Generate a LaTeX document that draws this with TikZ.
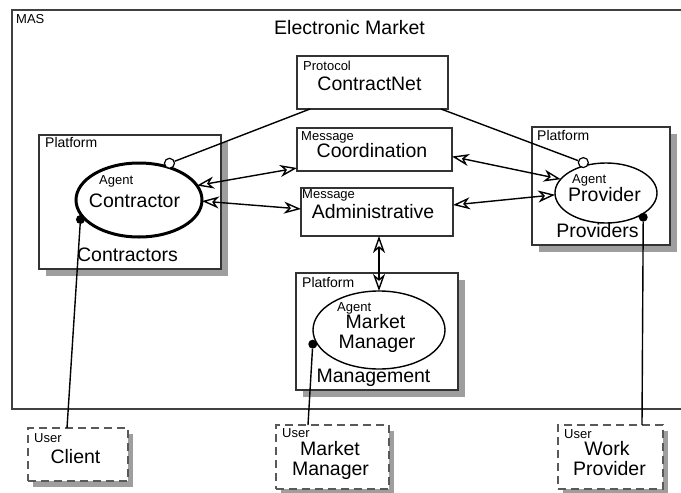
\documentclass[tikz,border=0pt]{standalone}
\usepackage{fontspec}
\setmainfont{Liberation Sans}
\usetikzlibrary{arrows.meta,shadows,shapes.geometric}
\newcommand\lblbig{\fontsize{19.5}{20}\selectfont}
\newcommand\lblsmall{\fontsize{13}{14}\selectfont}
\newcommand\lblplat{\fontsize{14}{15}\selectfont}

\begin{document}
\begin{tikzpicture}[x=1pt,y=-1pt,
  frame/.style={rectangle, draw=black!80, line width=1.4pt, fill=white,
    inner sep=0pt, outer sep=0pt},
  plat/.style={frame, drop shadow={shadow xshift=7pt, shadow yshift=-7pt,
    fill=black!38, opacity=1}},
  agentell/.style={ellipse, draw=black, line width=1.4pt, fill=white,
    inner sep=0pt, outer sep=0pt},
  userbox/.style={frame, draw=black!65, line width=1.6pt, dash pattern=on 8pt off 5pt,
    drop shadow={shadow xshift=5pt, shadow yshift=-6pt, fill=black!38, opacity=1}},
  tag/.style={font=\lblsmall, inner sep=0pt, anchor=base west},
  ptag/.style={font=\lblplat, inner sep=0pt, anchor=base west},
  txt/.style={font=\lblbig, inner sep=0pt, anchor=base},
  link/.style={draw=black, line width=1.4pt},
  dbl/.style={link, >={Stealth[open, length=17pt, width=12pt, inset=5pt]}, <->},
  lolly/.style={circle, draw=black, line width=1.2pt, fill=white,
    minimum size=10pt, inner sep=0pt},
  dotend/.style={circle, fill=black, minimum size=9pt, inner sep=0pt},
]
\useasboundingbox (0,0) rectangle (681,493);
\clip (0,0) rectangle (681,493);

% multi-agent system frame
\node[frame, draw=black!75, minimum width=688pt, minimum height=399pt] (mas) at (356,209.5) {};
\node[tag] (masl) at (16,23) {MAS};
\node[txt] (title) at (349.5,34) {Electronic Market};

% protocol and message boxes
\node[frame, minimum width=151pt, minimum height=53pt] (proto) at (372.5,82.5) {};
\node[frame, minimum width=155pt, minimum height=43pt] (coord) at (374.5,149.5) {};
\node[frame, minimum width=152pt, minimum height=48pt] (admin) at (377,212) {};
\node[tag] (protol) at (303,70) {Protocol};
\node[txt] (protot) at (369.5,90) {ContractNet};
\node[tag] (coordl) at (301,140) {Message};
\node[txt] (coordt) at (372,157) {Coordination};
\node[tag] (adminl) at (302,198) {Message};
\node[txt] (admint) at (373,218) {Administrative};

% platforms
\node[plat, minimum width=182pt, minimum height=134pt] (platC) at (130,202) {};
\node[plat, minimum width=138pt, minimum height=118pt] (platP) at (601,186) {};
\node[plat, minimum width=162pt, minimum height=117pt] (platM) at (377,331.5) {};
\node[ptag] (platCl) at (45,147) {Platform};
\node[ptag] (platPl) at (537,140) {Platform};
\node[ptag] (platMl) at (302,287) {Platform};
\node[txt] (platCt) at (127.5,261) {Contractors};
\node[txt] (platPt) at (597.5,237) {Providers};
\node[txt] (platMt) at (373.5,382) {Management};

% agents
\node[agentell, line width=3pt, minimum width=126pt, minimum height=74pt] (agC) at (139,200) {};
\node[agentell, minimum width=102pt, minimum height=60pt] (agP) at (606,193) {};
\node[agentell, minimum width=132pt, minimum height=78pt] (agM) at (379,330) {};
\node[tag] (agCl) at (99,184) {Agent};
\node[txt] (agCt) at (134.5,207) {Contractor};
\node[tag] (agPl) at (572,183) {Agent};
\node[txt] (agPt) at (604.5,201) {Provider};
\node[tag] (agMl) at (337,311) {Agent};
\node[txt] (agMt1) at (375.5,328) {Market};
\node[txt] (agMt2) at (377,348) {Manager};

% users outside the system
\node[userbox, minimum width=100pt, minimum height=53pt] (client) at (78,454.5) {};
\node[userbox, minimum width=113pt, minimum height=64pt] (mmu) at (332.5,457) {};
\node[userbox, minimum width=105pt, minimum height=64pt] (wpu) at (610.5,457) {};
\node[tag] (clientl) at (34,442) {User};
\node[txt] (clientt) at (75.5,463) {Client};
\node[tag] (mmul) at (282,437) {User};
\node[txt] (mmut1) at (330,455) {Market};
\node[txt] (mmut2) at (330.5,475) {Manager};
\node[tag] (wpul) at (564,438) {User};
\node[txt] (wput1) at (607,455) {Work};
\node[txt] (wput2) at (609.5,475) {Provider};

% message exchanges
\draw[dbl] (agC.14) -- ([yshift=3pt]coord.south west);
\draw[dbl] (agC.-1) -- ([yshift=3pt]admin.west);
\draw[dbl] ([yshift=-7pt]coord.east) -- (agP.163);
\draw[dbl] ([yshift=7pt]admin.east) -- (agP.182);
\draw[dbl] ([xshift=2pt]admin.south) -- (agM.north);

% protocol roles
\node[lolly] (lC) at ([xshift=1pt,yshift=4pt]agC.48) {};
\node[lolly] (lP) at ([xshift=-2pt,yshift=3pt]agP.127) {};
\draw[link] ([xshift=13pt]proto.south west) -- (lC);
\draw[link] ([xshift=-7pt]proto.south east) -- (lP);

% user bindings
\node[dotend] (dC) at ([xshift=-5pt]agC.200) {};
\node[dotend] (dP) at ([xshift=3pt,yshift=-2pt]agP.-33) {};
\node[dotend] (dM) at ([xshift=-3pt,yshift=-3pt]agM.190) {};
\draw[link] (dC) -- ([xshift=-11pt]client.north);
\draw[link] (dP) -- ([xshift=-21pt]wpu.north east);
\draw[link] (dM) -- ([xshift=-24.5pt]mmu.north);
\end{tikzpicture}
\end{document}
